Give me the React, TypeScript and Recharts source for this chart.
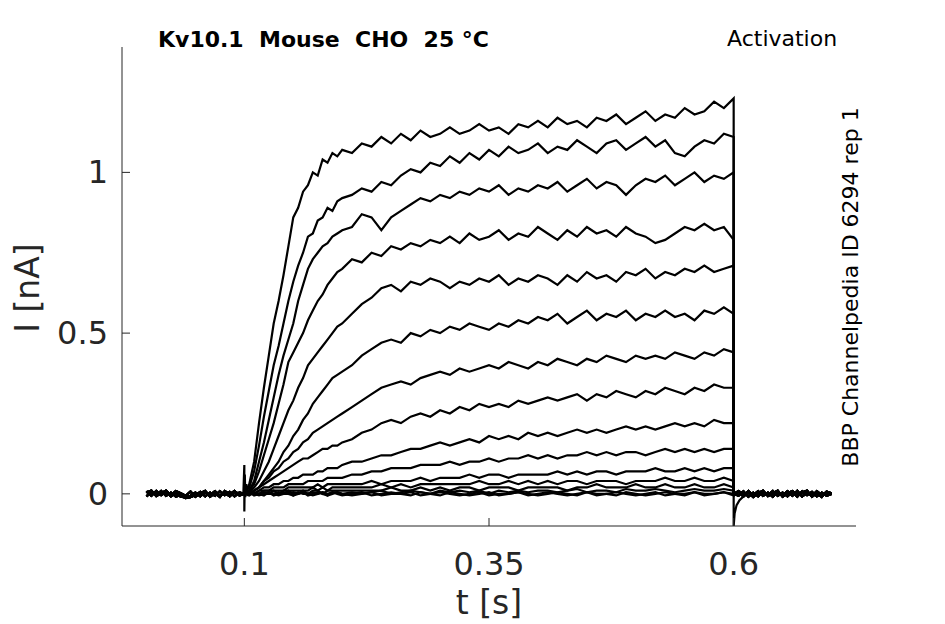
import { LineChart, Line, XAxis, YAxis } from "recharts"

// time base [s]
const preT = [0, 0.005, 0.01, 0.015, 0.02, 0.025, 0.03, 0.035, 0.04, 0.045, 0.05, 0.055, 0.06, 0.065, 0.07, 0.075, 0.08, 0.085, 0.09, 0.095]
const pulseT = [
    0.1, 0.105, 0.11, 0.115, 0.12, 0.125, 0.13, 0.135, 0.14, 0.145, 0.15, 0.155, 0.16, 0.165, 0.17, 0.175, 0.18, 0.185, 0.19, 0.195, 0.2,
    0.21, 0.22, 0.23, 0.24, 0.25, 0.26, 0.27, 0.28, 0.29, 0.3, 0.31, 0.32, 0.33, 0.34, 0.35, 0.36, 0.37, 0.38, 0.39, 0.4,
    0.41, 0.42, 0.43, 0.44, 0.45, 0.46, 0.47, 0.48, 0.49, 0.5, 0.51, 0.52, 0.53, 0.54, 0.55, 0.56, 0.57, 0.58, 0.59, 0.6,
]
const postT = [0.6, 0.605, 0.61, 0.615, 0.62, 0.625, 0.63, 0.635, 0.64, 0.645, 0.65, 0.655, 0.66, 0.665, 0.67, 0.675, 0.68, 0.685, 0.69, 0.695, 0.7]

// holding current before / after the step [nA]
const preA = [0.008, -0.006, 0.009, -0.004, 0.006, -0.008, 0.004, -0.009, -0.011, -0.006, 0.004, -0.008, 0.006, -0.004, 0.008, -0.006, 0.004, -0.008, 0.006, 0]
const preB = [-0.008, 0.006, -0.004, 0.009, -0.006, 0.004, -0.008, -0.004, -0.013, -0.01, -0.004, 0.006, -0.008, 0.004, -0.006, 0.008, -0.004, 0.006, -0.008, 0.004]
const preC = [0.004, 0.01, -0.007, 0.002, 0.01, -0.004, 0.009, 0.002, -0.006, 0.007, -0.009, 0.002, 0.009, -0.009, 0.002, -0.01, 0.009, -0.002, 0.009, -0.005]
const postA = [0, 0.006, -0.008, 0.009, -0.004, 0.008, -0.006, 0.004, -0.009, 0.006, -0.004, 0.008, -0.006, 0.009, -0.008, 0.004, -0.006, 0.008, -0.004, 0.006, 0]
const postB = [0, -0.006, 0.008, -0.009, 0.004, -0.008, 0.006, -0.004, 0.009, -0.006, 0.004, -0.008, 0.006, -0.009, 0.008, -0.004, 0.006, -0.008, 0.004, -0.006, 0]
const postC = [0, 0.009, -0.002, 0.004, -0.01, 0.002, 0.01, -0.007, 0.002, 0.01, -0.009, 0.002, 0.009, -0.002, 0.004, 0.01, -0.009, 0.002, -0.01, 0.007, 0.002]

// capacitive transients at step on / off
const stepOnT = [0.099, 0.1, 0.1, 0.1005, 0.101, 0.102, 0.103]
const stepOnI = [0, 0.09, -0.055, 0.06, -0.01, 0.03, 0]
const stepOffT = [0.6, 0.6, 0.601, 0.603, 0.606, 0.61, 0.615]
const stepOffI = [0.02, -0.1, -0.06, -0.035, -0.02, -0.008, 0]

// current during the step, one array per voltage [nA]
const trace1 = [
    0, 0.03, 0.1, 0.22, 0.33, 0.43, 0.53, 0.6, 0.68, 0.77, 0.86, 0.89, 0.94, 0.96, 1.0, 0.99, 1.04, 1.03, 1.06, 1.05, 1.07,
    1.06, 1.09, 1.08, 1.11, 1.09, 1.12, 1.1, 1.13, 1.11, 1.12, 1.14, 1.12, 1.13, 1.15, 1.13, 1.14, 1.12, 1.15, 1.14, 1.16,
    1.14, 1.17, 1.15, 1.16, 1.14, 1.17, 1.16, 1.18, 1.15, 1.17, 1.19, 1.16, 1.18, 1.17, 1.2, 1.18, 1.19, 1.22, 1.2, 1.23,
]
const trace2 = [
    0, 0.02, 0.07, 0.15, 0.24, 0.32, 0.4, 0.46, 0.53, 0.6, 0.66, 0.71, 0.75, 0.8, 0.81, 0.85, 0.86, 0.89, 0.88, 0.91, 0.92,
    0.93, 0.95, 0.94, 0.97, 0.96, 0.99, 1.01, 1.0, 1.03, 1.02, 1.05, 1.03, 1.06, 1.04, 1.07, 1.05, 1.08, 1.06, 1.07, 1.09,
    1.06, 1.08, 1.07, 1.1, 1.08, 1.06, 1.09, 1.1, 1.07, 1.09, 1.11, 1.08, 1.1, 1.06, 1.05, 1.08, 1.1, 1.09, 1.12, 1.11,
]
const trace3 = [
    0, 0.01, 0.04, 0.1, 0.16, 0.23, 0.3, 0.37, 0.43, 0.48, 0.53, 0.6, 0.65, 0.7, 0.73, 0.75, 0.77, 0.78, 0.8, 0.81, 0.82,
    0.83, 0.87, 0.86, 0.82, 0.86, 0.88, 0.9, 0.92, 0.91, 0.93, 0.92, 0.94, 0.93, 0.95, 0.94, 0.96, 0.93, 0.95, 0.94, 0.96,
    0.95, 0.97, 0.94, 0.96, 0.98, 0.95, 0.97, 0.96, 0.93, 0.96, 0.98, 0.97, 0.99, 0.96, 0.98, 1.0, 0.97, 0.99, 0.98, 1.0,
]
const trace4 = [
    0, 0.01, 0.03, 0.07, 0.12, 0.17, 0.22, 0.28, 0.34, 0.41, 0.44, 0.47, 0.5, 0.54, 0.57, 0.6, 0.62, 0.65, 0.67, 0.69, 0.7,
    0.73, 0.72, 0.75, 0.74, 0.77, 0.76, 0.78, 0.77, 0.79, 0.78, 0.8, 0.78, 0.81, 0.79, 0.8, 0.82, 0.79, 0.81, 0.8, 0.83,
    0.81, 0.79, 0.82, 0.8, 0.83, 0.81, 0.82, 0.8, 0.83, 0.81, 0.8, 0.78, 0.79, 0.81, 0.83, 0.82, 0.84, 0.82, 0.83, 0.79,
]
const trace5 = [
    0, 0.005, 0.02, 0.04, 0.07, 0.1, 0.14, 0.18, 0.22, 0.26, 0.29, 0.33, 0.36, 0.4, 0.42, 0.44, 0.46, 0.48, 0.5, 0.52, 0.53,
    0.56, 0.59, 0.61, 0.64, 0.65, 0.63, 0.66, 0.65, 0.67, 0.66, 0.64, 0.66, 0.65, 0.67, 0.66, 0.68, 0.65, 0.67, 0.66, 0.68,
    0.67, 0.65, 0.68, 0.66, 0.69, 0.67, 0.68, 0.66, 0.69, 0.68, 0.7, 0.67, 0.69, 0.68, 0.7, 0.69, 0.71, 0.69, 0.7, 0.71,
]
const trace6 = [
    0, 0, 0.01, 0.02, 0.04, 0.06, 0.08, 0.1, 0.13, 0.15, 0.18, 0.2, 0.23, 0.25, 0.28, 0.3, 0.32, 0.34, 0.36, 0.37, 0.38,
    0.4, 0.43, 0.45, 0.47, 0.48, 0.47, 0.5, 0.49, 0.51, 0.5, 0.52, 0.51, 0.53, 0.52, 0.51, 0.53, 0.52, 0.54, 0.53, 0.55,
    0.54, 0.56, 0.53, 0.55, 0.57, 0.54, 0.56, 0.55, 0.57, 0.54, 0.56, 0.55, 0.57, 0.55, 0.56, 0.54, 0.57, 0.56, 0.58, 0.56,
]
const trace7 = [
    0, 0, 0.01, 0.02, 0.04, 0.05, 0.07, 0.08, 0.1, 0.11, 0.13, 0.14, 0.16, 0.17, 0.19, 0.2, 0.21, 0.22, 0.23, 0.24, 0.25,
    0.27, 0.29, 0.31, 0.33, 0.34, 0.35, 0.34, 0.36, 0.37, 0.38, 0.37, 0.39, 0.38, 0.39, 0.4, 0.39, 0.41, 0.4, 0.39, 0.41,
    0.4, 0.42, 0.41, 0.4, 0.42, 0.41, 0.43, 0.42, 0.41, 0.43, 0.42, 0.43, 0.42, 0.44, 0.43, 0.42, 0.44, 0.43, 0.45, 0.44,
]
const trace8 = [
    0, 0, 0.01, 0.02, 0.03, 0.04, 0.05, 0.06, 0.07, 0.08, 0.09, 0.1, 0.11, 0.11, 0.12, 0.13, 0.14, 0.14, 0.15, 0.15, 0.16,
    0.17, 0.19, 0.2, 0.22, 0.23, 0.22, 0.24, 0.25, 0.24, 0.26, 0.25, 0.27, 0.26, 0.28, 0.27, 0.28, 0.27, 0.29, 0.28, 0.29,
    0.3, 0.29, 0.3, 0.31, 0.29, 0.31, 0.3, 0.32, 0.31, 0.3, 0.32, 0.31, 0.33, 0.32, 0.31, 0.33, 0.32, 0.34, 0.33, 0.33,
]
const trace9 = [
    0, 0, 0, 0.01, 0.02, 0.02, 0.03, 0.03, 0.04, 0.04, 0.05, 0.05, 0.06, 0.06, 0.06, 0.07, 0.07, 0.08, 0.08, 0.08, 0.09,
    0.1, 0.1, 0.11, 0.12, 0.12, 0.13, 0.14, 0.14, 0.15, 0.16, 0.15, 0.16, 0.17, 0.16, 0.18, 0.17, 0.18, 0.17, 0.19, 0.18,
    0.19, 0.18, 0.19, 0.2, 0.19, 0.2, 0.19, 0.2, 0.21, 0.2, 0.21, 0.2, 0.21, 0.22, 0.21, 0.22, 0.21, 0.23, 0.22, 0.22,
]
const trace10 = [
    0, 0, 0, 0.01, 0.01, 0.01, 0.02, 0.02, 0.02, 0.03, 0.03, 0.03, 0.03, 0.04, 0.04, 0.04, 0.04, 0.05, 0.05, 0.05, 0.05,
    0.06, 0.06, 0.07, 0.07, 0.08, 0.08, 0.08, 0.09, 0.09, 0.09, 0.1, 0.09, 0.1, 0.1, 0.11, 0.1, 0.11, 0.11, 0.12, 0.11,
    0.12, 0.11, 0.12, 0.12, 0.13, 0.12, 0.13, 0.12, 0.13, 0.13, 0.12, 0.13, 0.14, 0.13, 0.14, 0.13, 0.14, 0.13, 0.14, 0.14,
]
const trace11 = [
    0, 0, 0, 0, 0.01, 0.01, 0.01, 0.01, 0.01, 0.02, 0.02, 0.02, 0.02, 0.02, 0.02, 0.03, 0.02, 0.03, 0.03, 0.03, 0.03,
    0.03, 0.03, 0.04, 0.03, 0.04, 0.04, 0.04, 0.05, 0.04, 0.05, 0.05, 0.05, 0.06, 0.05, 0.06, 0.06, 0.05, 0.06, 0.06, 0.06,
    0.06, 0.07, 0.06, 0.07, 0.06, 0.07, 0.07, 0.06, 0.07, 0.07, 0.07, 0.08, 0.07, 0.07, 0.08, 0.07, 0.08, 0.07, 0.08, 0.08,
]
const trace12 = [
    0, 0, 0, 0, 0, 0, 0.01, 0, 0.01, 0.01, 0.01, 0.01, 0.01, 0.01, 0.02, 0.01, 0.02, 0.01, 0.02, 0.02, 0.02,
    0.02, 0.02, 0.02, 0.03, 0.02, 0.03, 0.02, 0.03, 0.03, 0.03, 0.03, 0.03, 0.03, 0.04, 0.03, 0.03, 0.04, 0.03, 0.04, 0.03,
    0.04, 0.03, 0.04, 0.04, 0.03, 0.04, 0.04, 0.04, 0.03, 0.04, 0.04, 0.04, 0.05, 0.04, 0.04, 0.05, 0.04, 0.04, 0.05, 0.04,
]
const trace13 = [
    0, 0, 0, 0, 0, 0, 0, 0, 0, 0.01, 0, 0, 0.01, 0, 0.01, 0.01, 0, 0.01, 0.01, 0.01, 0.01,
    0.01, 0.01, 0.01, 0.01, 0.02, 0.01, 0.01, 0.02, 0.01, 0.02, 0.01, 0.02, 0.02, 0.01, 0.02, 0.02, 0.02, 0.01, 0.02, 0.02,
    0.02, 0.02, 0.01, 0.02, 0.02, 0.03, 0.02, 0.02, 0.02, 0.03, 0.02, 0.02, 0.03, 0.02, 0.02, 0.03, 0.02, 0.02, 0.03, 0.02,
]
const trace14 = [
    0, 0.005, -0.005, 0, 0.005, 0, 0, 0.005, 0, 0, 0.005, 0, 0.005, 0, 0.005, 0, 0.005, 0, 0.005, 0.005, 0,
    0.005, 0, 0.005, 0.01, 0, 0.005, 0.01, 0.005, 0, 0.01, 0.005, 0.01, 0.005, 0.01, 0, 0.01, 0.005, 0.01, 0.005, 0.01,
    0.01, 0.005, 0.01, 0.015, 0.005, 0.01, 0.01, 0.005, 0.015, 0.01, 0.01, 0.015, 0.01, 0.005, 0.01, 0.015, 0.01, 0.01, 0.015, 0.01,
]
const trace15 = [
    0, -0.005, 0.005, 0, -0.005, 0.005, 0, -0.005, 0, 0.005, -0.005, 0, 0.005, -0.005, 0, 0.005, 0, -0.005, 0.005, 0, -0.005,
    0, 0.005, -0.005, 0, 0.005, 0, -0.005, 0.005, 0, -0.005, 0.005, 0, -0.005, 0, 0.005, -0.005, 0, 0.005, 0, -0.005,
    0, 0.005, 0, -0.005, 0.005, 0, 0, -0.005, 0.005, 0, -0.005, 0, 0.005, 0, -0.005, 0.005, 0, 0, 0.005, 0,
]
const trace16 = [
    0, 0.005, 0, -0.005, 0, 0.005, -0.005, 0, 0.005, 0, -0.005, 0.005, 0, 0, -0.005, 0, 0.005, -0.005, 0, 0.005, 0,
    -0.005, 0, 0.005, -0.005, 0, 0, 0.005, -0.005, 0, 0.005, 0, -0.005, 0, 0.005, -0.005, 0, 0, 0.005, -0.005, 0,
    0.005, 0, -0.005, 0, 0.005, -0.005, 0, 0.005, 0, -0.005, 0, 0.005, -0.005, 0, 0, 0.005, -0.005, 0, 0.005, -0.005,
]

const traces = [trace1, trace2, trace3, trace4, trace5, trace6, trace7, trace8, trace9, trace10, trace11, trace12, trace13, trace14, trace15, trace16]
const preSets = [preA, preB, preC]
const postSets = [postA, postB, postC]

const xTicks = [0.1, 0.35, 0.6]
const yTicks = [0, 0.5, 1]

const zip = (ts: number[], vs: number[]) => ts.map((t, k) => ({ t, i: vs[k] }))

const series = traces.map((tr, n) => [
    ...zip(preT, preSets[n % 3]),
    ...zip(pulseT, tr),
    ...zip(postT, postSets[n % 3]),
])
const stepOn = zip(stepOnT, stepOnI)
const stepOff = zip(stepOffT, stepOffI)

const FONT = "'DejaVu Sans', sans-serif"
const AXIS = "#262626"
const LEFT = 122
const BOTTOM = 526
const LW = 2.2

function YTick(props: any) {
    const { y, payload } = props
    return (
        <g>
            <line x1={LEFT} x2={LEFT + 8} y1={y} y2={y} stroke={AXIS} strokeWidth={1} />
            <text x={108} y={y} textAnchor="end" dominantBaseline="central" fontSize={32} fill={AXIS} fontFamily={FONT}>
                {payload.value}
            </text>
        </g>
    )
}

function XTick(props: any) {
    const { x, payload } = props
    return (
        <g>
            <line x1={x} x2={x} y1={BOTTOM} y2={BOTTOM - 8} stroke={AXIS} strokeWidth={1} />
            <text x={x} y={575} textAnchor="middle" fontSize={32} fill={AXIS} fontFamily={FONT}>
                {payload.value}
            </text>
        </g>
    )
}

export default function App() {
    return (
        <div style={{ position: "absolute", left: 0, top: 0, width: 945, height: 624, background: "#fff" }}>
            <LineChart width={945} height={624} margin={{ top: 47, right: 89, bottom: 68, left: 62 }}>
                <XAxis
                    type="number"
                    dataKey="t"
                    domain={[-0.025, 0.725]}
                    ticks={xTicks}
                    interval={0}
                    height={30}
                    tickLine={false}
                    axisLine={{ stroke: AXIS, strokeWidth: 1 }}
                    tick={<XTick />}
                    allowDataOverflow
                />
                <YAxis
                    type="number"
                    domain={[-0.1, 1.39]}
                    ticks={yTicks}
                    interval={0}
                    width={60}
                    tickLine={false}
                    axisLine={{ stroke: AXIS, strokeWidth: 1 }}
                    tick={<YTick />}
                    allowDataOverflow
                />
                {series.map((d, n) => (
                    <Line
                        key={`tr-${n}`}
                        data={d}
                        dataKey="i"
                        type="linear"
                        stroke="#000"
                        strokeWidth={LW}
                        dot={false}
                        isAnimationActive={false}
                    />
                ))}
                <Line data={stepOn} dataKey="i" type="linear" stroke="#000" strokeWidth={LW} dot={false} isAnimationActive={false} />
                <Line data={stepOff} dataKey="i" type="linear" stroke="#000" strokeWidth={LW} dot={false} isAnimationActive={false} />
            </LineChart>
            <svg width={945} height={624} style={{ position: "absolute", left: 0, top: 0, pointerEvents: "none" }}>
                <text x={158} y={47} fontSize={22} fontWeight="bold" fontFamily={FONT} fill="#000">
                    {"Kv10.1\u00a0 Mouse\u00a0 CHO\u00a0 25 °C"}
                </text>
                <text x={727} y={46} fontSize={22} fontFamily={FONT} fill="#000">
                    Activation
                </text>
                <text transform="translate(858,287) rotate(-90)" textAnchor="middle" fontSize={22} fontFamily={FONT} fill="#000">
                    BBP Channelpedia ID 6294 rep 1
                </text>
                <text transform="translate(39,288) rotate(-90)" textAnchor="middle" fontSize={33} fontFamily={FONT} fill={AXIS}>
                    I [nA]
                </text>
                <text x={489} y={614} textAnchor="middle" fontSize={33} fontFamily={FONT} fill={AXIS}>
                    t [s]
                </text>
            </svg>
        </div>
    )
}
